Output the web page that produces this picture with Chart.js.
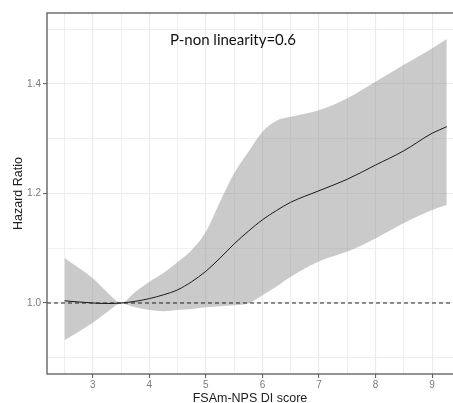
<!DOCTYPE html>
<html>
<head>
<meta charset="utf-8">
<script src="https://cdn.jsdelivr.net/npm/chart.js@4.4.1/dist/chart.umd.min.js"></script>
<style>
  html, body { margin: 0; padding: 0; background: #ffffff; }
  #wrap { width: 453px; height: 403px; position: relative; }
</style>
</head>
<body>
<div id="wrap"><canvas id="c" width="453" height="403"></canvas></div>
<script>
// ---- data ----
const scoreX   = [2.5, 3.0, 3.25, 3.5, 3.75, 4.0, 4.25, 4.5, 4.75, 5.0, 5.25, 5.5, 5.75, 6.0, 6.25, 6.5, 7.0, 7.5, 8.0, 8.5, 9.0, 9.26];
const hazard   = [1.004, 1.000, 0.999, 1.000, 1.003, 1.008, 1.015, 1.024, 1.039, 1.058, 1.082, 1.108, 1.131, 1.152, 1.169, 1.184, 1.205, 1.226, 1.252, 1.278, 1.310, 1.322];
const upperCI  = [1.082, 1.045, 1.020, 1.000, 1.020, 1.039, 1.055, 1.075, 1.097, 1.130, 1.185, 1.237, 1.276, 1.313, 1.333, 1.340, 1.352, 1.374, 1.404, 1.435, 1.465, 1.482];
const lowerCI  = [0.932, 0.964, 0.983, 0.999, 0.992, 0.987, 0.985, 0.987, 0.989, 0.992, 0.994, 0.996, 0.999, 1.014, 1.030, 1.048, 1.076, 1.094, 1.118, 1.146, 1.170, 1.179];
const referenceHR = 1.0;

const xGridValues = [2.5, 3, 3.5, 4, 4.5, 5, 5.5, 6, 6.5, 7, 7.5, 8, 8.5, 9];
const xTickLabels = [3, 4, 5, 6, 7, 8, 9];
const yGridValues = [0.9, 1.0, 1.1, 1.2, 1.3, 1.4, 1.5];
const yTickLabels = [1.0, 1.2, 1.4];

const xRange = [2.19, 9.37];
const yRange = [0.8703, 1.5297];

const annotationText = 'P-non linearity=0.6';
const annotationAt = { x: 5.48, y: 1.48 };

const xTitle = 'FSAm-NPS DI score';
const yTitle = 'Hazard Ratio';

// ---- helpers ----
const pts = (xs, ys) => xs.map((x, i) => ({ x: x, y: ys[i] }));
const isLabeled = (arr, v) => arr.some(a => Math.abs(a - v) < 1e-6);

const framePlugin = {
  id: 'frame',
  afterDraw(chart) {
    const { ctx, chartArea: a } = chart;
    ctx.save();
    ctx.strokeStyle = '#595959';
    ctx.lineWidth = 1.3;
    ctx.strokeRect(a.left, a.top, a.right - a.left + 2, a.bottom - a.top);
    // annotation text
    const xs = chart.scales.x, ys = chart.scales.y;
    ctx.fillStyle = '#111111';
    ctx.font = '15px Lato, "Open Sans", sans-serif';
    ctx.textAlign = 'center';
    ctx.textBaseline = 'middle';
    ctx.fillText(annotationText, xs.getPixelForValue(annotationAt.x), ys.getPixelForValue(annotationAt.y));
    ctx.restore();
  }
};

const gridColor = '#ebebeb';

new Chart(document.getElementById('c'), {
  type: 'line',
  data: {
    datasets: [
      {
        label: 'upper',
        data: pts(scoreX, upperCI),
        borderWidth: 0,
        borderColor: 'rgba(0,0,0,0)',
        backgroundColor: 'rgba(150,150,150,0.5)',
        pointRadius: 0,
        fill: '+1',
        cubicInterpolationMode: 'monotone',
        order: 3
      },
      {
        label: 'lower',
        data: pts(scoreX, lowerCI),
        borderWidth: 0,
        borderColor: 'rgba(0,0,0,0)',
        pointRadius: 0,
        fill: false,
        cubicInterpolationMode: 'monotone',
        order: 3
      },
      {
        label: 'reference',
        data: pts(xRange, [referenceHR, referenceHR]),
        borderColor: '#222222',
        borderWidth: 1.1,
        borderDash: [4, 3],
        pointRadius: 0,
        fill: false,
        order: 1
      },
      {
        label: 'HR',
        data: pts(scoreX, hazard),
        borderColor: '#1a1a1a',
        borderWidth: 1,
        pointRadius: 0,
        fill: false,
        cubicInterpolationMode: 'monotone',
        order: 2
      }
    ]
  },
  options: {
    responsive: false,
    animation: false,
    devicePixelRatio: 1,
    layout: { padding: { top: 13, right: 0, left: 0, bottom: 0 } },
    plugins: {
      legend: { display: false },
      tooltip: { enabled: false },
      filler: { propagate: false }
    },
    scales: {
      x: {
        type: 'linear',
        min: xRange[0],
        max: xRange[1],
        afterBuildTicks(scale) { scale.ticks = xGridValues.map(v => ({ value: v })); },
        afterFit(scale) { scale.height = 29; },
        border: { display: false },
        grid: {
          color: gridColor,
          lineWidth: (c) => (c.tick && isLabeled(xTickLabels, c.tick.value)) ? 1.1 : 0.8,
          tickLength: 4,
          tickColor: (c) => (c.tick && isLabeled(xTickLabels, c.tick.value)) ? '#666666' : 'rgba(0,0,0,0)',
          drawTicks: true
        },
        ticks: {
          autoSkip: false,
          maxRotation: 0,
          padding: 1,
          color: '#7a7a7a',
          font: { family: 'Arial, "Liberation Sans", sans-serif', size: 10 },
          callback: (v) => isLabeled(xTickLabels, v) ? String(v) : ''
        },
        title: {
          display: true,
          text: xTitle,
          color: '#222222',
          font: { family: 'Arial, "Liberation Sans", sans-serif', size: 12.5, lineHeight: 0.75 },
          padding: { top: 0, bottom: 0 }
        }
      },
      y: {
        type: 'linear',
        min: yRange[0],
        max: yRange[1],
        afterBuildTicks(scale) { scale.ticks = yGridValues.map(v => ({ value: v })); },
        afterFit(scale) { scale.width = 47; },
        border: { display: false },
        grid: {
          color: gridColor,
          lineWidth: (c) => (c.tick && isLabeled(yTickLabels, c.tick.value)) ? 1.1 : 0.8,
          tickLength: 4,
          tickColor: (c) => (c.tick && isLabeled(yTickLabels, c.tick.value)) ? '#666666' : 'rgba(0,0,0,0)'
        },
        ticks: {
          autoSkip: false,
          padding: 2,
          color: '#7a7a7a',
          font: { family: 'Arial, "Liberation Sans", sans-serif', size: 10 },
          callback: (v) => isLabeled(yTickLabels, v) ? Number(v).toFixed(1) : ''
        },
        title: {
          display: true,
          text: yTitle,
          color: '#222222',
          font: { family: 'Arial, "Liberation Sans", sans-serif', size: 12.5 },
          padding: { top: 11, bottom: 0 }
        }
      }
    }
  },
  plugins: [framePlugin]
});
</script>
</body>
</html>
